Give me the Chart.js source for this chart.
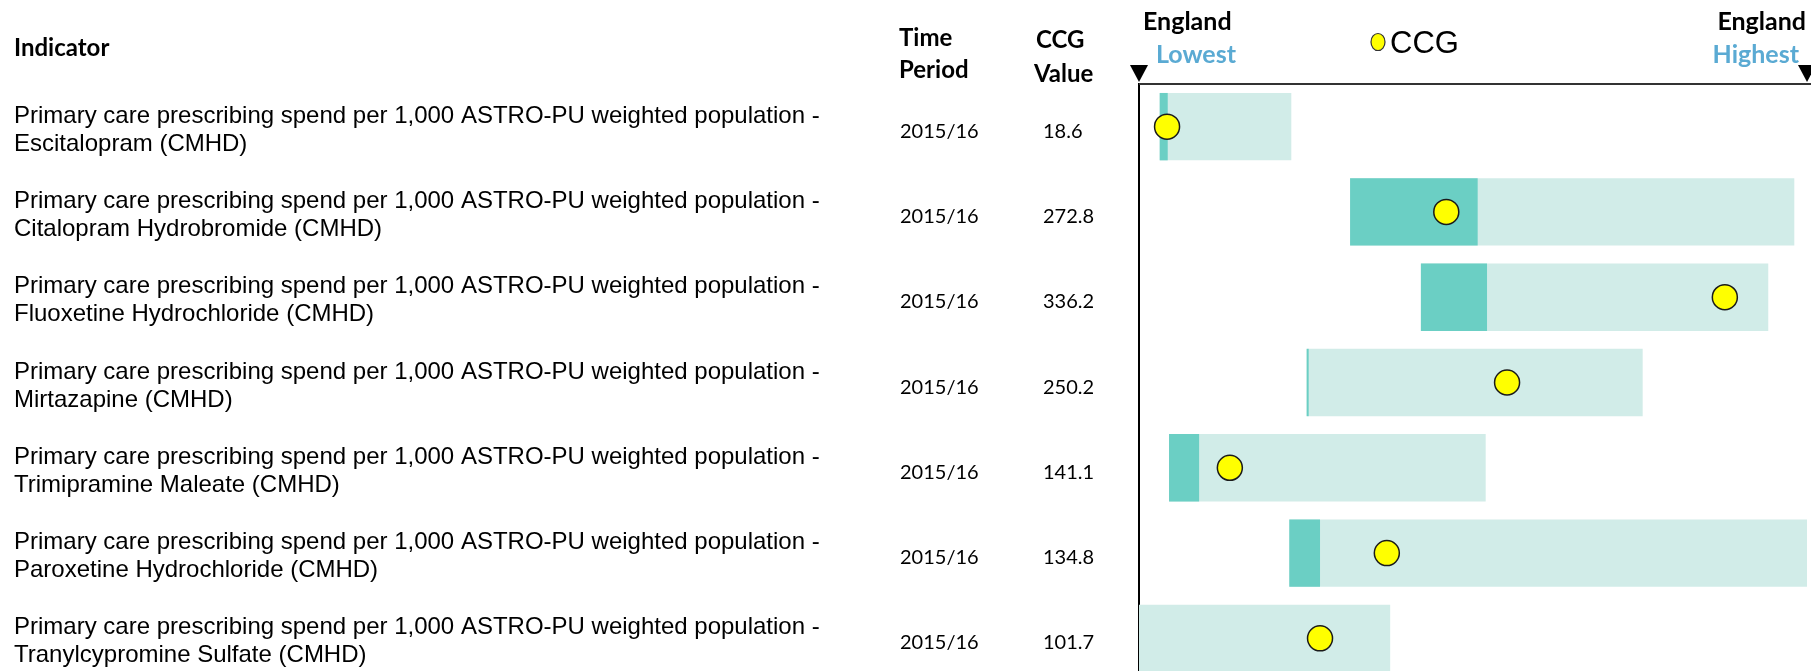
<!DOCTYPE html>
<html>
<head>
<meta charset="utf-8">
<script src="https://cdn.jsdelivr.net/npm/chart.js@4.4.1/dist/chart.umd.min.js"></script>
<style>
  html, body { margin: 0; padding: 0; background: #fff; overflow: hidden; }
  #wrap { position: relative; width: 1811px; height: 681px; }
</style>
</head>
<body>
<div id="wrap"><canvas id="spineChart" width="1811" height="681"></canvas></div>
<script>
// Table columns
const indicatorPrefix = 'Primary care prescribing spend per 1,000 ASTRO-PU weighted population -';
const indicators = [
    'Escitalopram (CMHD)',
    'Citalopram Hydrobromide (CMHD)',
    'Fluoxetine Hydrochloride (CMHD)',
    'Mirtazapine (CMHD)',
    'Trimipramine Maleate (CMHD)',
    'Paroxetine Hydrochloride (CMHD)',
    'Tranylcypromine Sulfate (CMHD)'
];
const timePeriods = ['2015/16', '2015/16', '2015/16', '2015/16', '2015/16', '2015/16', '2015/16'];
const ccgValues = ['18.6', '272.8', '336.2', '250.2', '141.1', '134.8', '101.7'];

// Spine positions, 0 = England lowest, 100 = England highest
const rangeLow  = [3.1, 31.6, 42.2, 25.1, 4.5, 22.5, 0];
const rangeHigh = [22.8, 98.1, 94.2, 75.4, 51.9, 100, 37.6];
const darkLow   = [3.1, 31.6, 42.2, 25.1, 4.5, 22.5, null];
const darkHigh  = [4.3, 50.7, 52.1, 25.4, 9.0, 27.1, null];
const ccgPosition = [4.2, 46.0, 87.7, 55.1, 13.6, 37.1, 27.1];

const LIGHT = '#D1ECE8';
const DARK = '#6BCFC4';
const BLUE = '#5AAAD3';

const spineTable = {
    id: 'spineTable',
    afterDraw(chart) {
        const { ctx, chartArea, scales: { x, y } } = chart;
        ctx.save();
        ctx.fillStyle = '#000';
        ctx.textAlign = 'left';
        ctx.textBaseline = 'alphabetic';

        // headers
        ctx.font = 'bold 24px Lato';
        ctx.fillText('Indicator', 14, 56);
        ctx.fillText('Time', 899, 46);
        ctx.fillText('Period', 899, 78);
        ctx.fillText('CCG', 1036, 48);
        ctx.fillText('Value', 1034, 82);

        ctx.font = 'bold 25px Lato';
        ctx.fillText('England', 1143, 30);
        ctx.fillStyle = BLUE;
        ctx.fillText('Lowest', 1156, 63);
        ctx.textAlign = 'right';
        ctx.fillStyle = '#000';
        ctx.fillText('England', 1806, 30);
        ctx.fillStyle = BLUE;
        ctx.fillText('Highest', 1799, 63);

        // CCG key
        ctx.beginPath();
        ctx.ellipse(1378, 42, 7, 8.5, 0, 0, Math.PI * 2);
        ctx.fillStyle = '#FFFF00';
        ctx.fill();
        ctx.lineWidth = 1.2;
        ctx.strokeStyle = '#333';
        ctx.stroke();
        ctx.fillStyle = '#000';
        ctx.textAlign = 'left';
        ctx.font = '31px "Liberation Sans", Arial';
        ctx.fillText('CCG', 1390, 53);

        // top rule
        ctx.beginPath();
        ctx.moveTo(chartArea.left, 84);
        ctx.lineTo(chart.width, 84);
        ctx.lineWidth = 2;
        ctx.strokeStyle = '#333';
        ctx.stroke();

        // end markers
        [x.getPixelForValue(0), x.getPixelForValue(100)].forEach(px => {
            ctx.beginPath();
            ctx.moveTo(px - 9, 65);
            ctx.lineTo(px + 9, 65);
            ctx.lineTo(px, 82);
            ctx.closePath();
            ctx.fillStyle = '#000';
            ctx.fill();
        });

        // rows
        chart.data.labels.forEach((name, i) => {
            const cy = y.getPixelForValue(i);
            ctx.fillStyle = '#000';
            ctx.textAlign = 'left';
            ctx.font = '24px "Liberation Sans", Arial';
            ctx.fillText(indicatorPrefix, 14, cy - 4);
            ctx.fillText(name, 14, cy + 24);
            ctx.font = '20px Lato';
            ctx.fillText(timePeriods[i], 900, cy + 11);
            ctx.fillText(ccgValues[i], 1043, cy + 11);
        });
        ctx.restore();
    }
};

new Chart(document.getElementById('spineChart'), {
    type: 'bar',
    data: {
        labels: indicators,
        datasets: [
            {
                type: 'scatter',
                label: 'CCG',
                data: ccgPosition.map((v, i) => ({ x: v, y: i })),
                pointRadius: 12.5,
                pointHoverRadius: 12.5,
                pointBackgroundColor: '#FFFF00',
                pointBorderColor: '#1a1a1a',
                pointBorderWidth: 1.5,
                clip: false,
                order: 0
            },
            {
                label: 'Dark',
                data: darkLow.map((v, i) => v === null ? null : [v, darkHigh[i]]),
                backgroundColor: DARK,
                grouped: false,
                categoryPercentage: 1,
                barPercentage: 0.79,
                order: 1
            },
            {
                label: 'Range',
                data: rangeLow.map((v, i) => [v, rangeHigh[i]]),
                backgroundColor: LIGHT,
                grouped: false,
                categoryPercentage: 1,
                barPercentage: 0.79,
                order: 2
            }
        ]
    },
    options: {
        indexAxis: 'y',
        responsive: false,
        animation: false,
        layout: { autoPadding: false, padding: { top: 84, right: 4, left: 0, bottom: 0 } },
        scales: {
            x: { min: 0, max: 100, display: false },
            y: {
                type: 'category',
                offset: true,
                grid: { display: false },
                border: { display: true, color: '#000', width: 2 },
                ticks: { display: false },
                afterFit: (scale) => { scale.width = 1139; }
            }
        },
        plugins: {
            legend: { display: false },
            tooltip: { enabled: false }
        }
    },
    plugins: [spineTable]
});
</script>
</body>
</html>
